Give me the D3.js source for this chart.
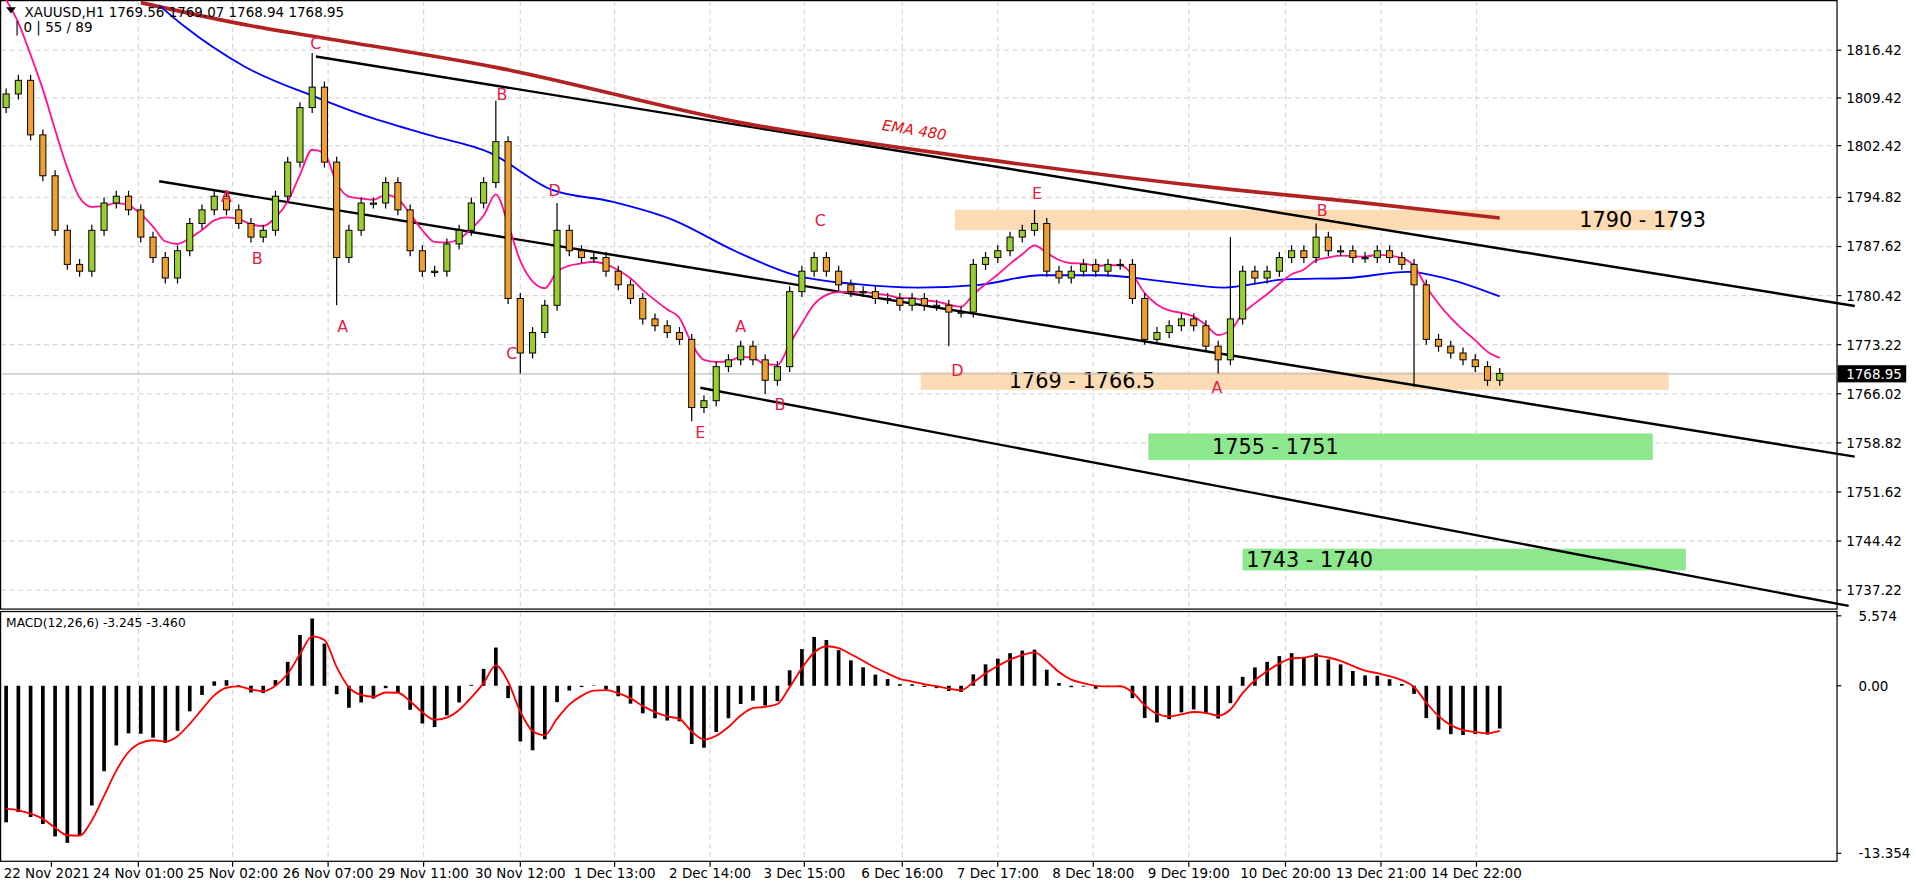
<!DOCTYPE html>
<html><head><meta charset="utf-8">
<script src="https://cdn.jsdelivr.net/npm/d3@7"></script>
<style>body{margin:0;background:#fff;font-family:Tahoma,"DejaVu Sans",sans-serif}</style>
</head><body><svg id="c" width="1916" height="884"></svg>
<script>
// closes per bar (each bar ~3 hours)
const closes = [1810,1812,1804,1798,1790,1785,1784,1790,1794,1795,1793,1789,1786,1783,1787,1791,1793,1795,1793,1791,
  1789,1790,1795,1800,1808,1811,1800,1786,1790,1794,1794,1797,1793,1787,1784,1784,1788,1790,1794,1797,
  1803,1780,1772,1775,1779,1790,1787,1786,1786,1784,1782,1780,1777,1776,1775,1774,1764,1765,1770,1771,
  1773,1771,1768,1770,1781,1784,1786,1784,1782,1781,1781,1780,1780,1779,1780,1779,1779,1778,1778,1785,
  1786,1787,1789,1790,1791,1784,1783,1784,1785,1784,1785,1785,1780,1774,1775,1776,1777,1776,1773,1771,
  1777,1784,1783,1784,1786,1787,1786,1789,1787,1787,1786,1786,1787,1786,1785,1782,1774,1773,1772,1771,
  1770,1768,1769];
const firstOpen = 1808;
// wick extremes: [bar, high, low]
const spikes = [[25,1816,null],[27,null,1779],[40,1809,null],[42,null,1769],[45,1794,null],[56,null,1762],
  [62,null,1766],[77,null,1773],[84,1793,null],[99,null,1769],[100,1789,null],[107,1791,null],[115,null,1767]];
// closes before the window, used to warm up the indicators
const priorCloses = [1858,1856,1853,1850,1846,1840,1834,1828,1822,1816];
// EMA 480 (red) and slow MA (blue) as [bar, price]
const ema480 = [[11,1823.4],[20,1820],[25.3,1818.4],[40,1813.9],[60,1805.8],[80,1800.4],[100,1796],[110,1794.2],[122,1791.8]];
const blueMA = [[12.5,1823],[14.5,1820],[19.5,1814],[25.5,1809.4],[29.5,1806.7],[34.5,1804],[39.5,1801.4],[44.5,1796],
  [49.5,1794.2],[54.5,1791.5],[59.5,1787],[64.5,1783.4],[69.5,1782.1],[74.5,1781.6],[79.5,1782],[84.5,1783.4],
  [89.5,1783.4],[94.5,1782.5],[99.5,1781.6],[104.5,1782.8],[109.5,1783],[114.5,1783.9],[117.5,1783],[122,1780.3]];
const channels = [[[25.3,1815.5],[151,1778.9]],[[12.5,1797.2],[151,1756.8]],[[56.7,1766.9],[150.5,1734.9]]];
const zones = [
  {b0:77.5,b1:136.2,p0:1793,p1:1790,fill:"#fddcb5",label:"1790 - 1793",lb:128.5},
  {b0:74.7,b1:135.8,p0:1769.2,p1:1766.6,fill:"#fddcb5",label:"1769 - 1766.5",lb:81.9},
  {b0:93.3,b1:134.5,p0:1760.2,p1:1756.3,fill:"#8de88d",label:"1755 - 1751",lb:98.5},
  {b0:101,b1:137.2,p0:1743.3,p1:1740.1,fill:"#8de88d",label:"1743 - 1740",lb:101.3}];
const waves = [["C",25.3,1817.5],["A",18,1795],["B",20.5,1786],["A",27.5,1776],["B",40.5,1810],["D",44.8,1796],
  ["C",41.3,1772],["A",60,1776],["E",56.7,1760.5],["B",63.2,1764.5],["C",66.5,1791.5],["D",77.7,1769.5],
  ["E",84.2,1795.5],["A",98.9,1767],["B",107.5,1793]];
const priceTicks = ["1816.42","1809.42","1802.42","1794.82","1787.62","1780.42","1773.22","1766.02","1758.82","1751.62","1744.42","1737.22"];
const timeLabels = [["22 Nov 2021",3.7],["24 Nov 01:00",10.8],["25 Nov 02:00",18.5],["26 Nov 07:00",26.3],["29 Nov 11:00",34.1],
  ["30 Nov 12:00",42],["1 Dec 13:00",49.7],["2 Dec 14:00",57.5],["3 Dec 15:00",65.2],["6 Dec 16:00",73.2],["7 Dec 17:00",81],
  ["8 Dec 18:00",88.8],["9 Dec 19:00",96.6],["10 Dec 20:00",104.5],["13 Dec 21:00",112.3],["14 Dec 22:00",120.1]];
const macdTicks = [5.574, 0, -13.354];
const lastPrice = 1768.95;

const svg = d3.select("#c");
const W = 1500;
const x = d3.scaleLinear().domain([0, 122]).range([5, 1225]);
const y = d3.scaleLinear().domain([1816.42, 1737.22]).range([41, 482]);
const ym = d3.scaleLinear().domain([5.574, -13.354]).range([503, 697]);

// bars
const bars = closes.map((c, i) => {
  const o = i === 0 ? firstOpen : closes[i - 1];
  let h = Math.max(o, c) + 0.8, l = Math.min(o, c) - 0.8;
  const s = spikes.find(d => d[0] === i);
  if (s) { if (s[1]) h = s[1]; if (s[2]) l = s[2]; }
  return {i, o, c, h, l};
});

// indicators
function ema(arr, n) { const k = 2 / (n + 1); let e = arr[0]; return arr.map(v => e = v * k + e * (1 - k)); }
const all = priorCloses.concat(closes);
const pink = ema(all, 6).slice(priorCloses.length);
const e1 = ema(all, 4), e2 = ema(all, 9);
const macdAll = e1.map((v, i) => v - e2[i]);
const sigAll = ema(macdAll, 3);
const macd = macdAll.slice(priorCloses.length), sig = sigAll.slice(priorCloses.length);

// whole layout drawn in 1565-wide units, then scaled to the window
const g = svg.append("g").attr("transform", `scale(${1916 / 1565})`);
g.append("rect").attr("x", 0.5).attr("y", 0.5).attr("width", W).attr("height", 497).attr("fill", "none").attr("stroke", "#000");
g.append("rect").attr("x", 0.5).attr("y", 499.5).attr("width", W).attr("height", 204).attr("fill", "none").attr("stroke", "#000");
priceTicks.forEach(t => {
  g.append("line").attr("x1", 1).attr("x2", W).attr("y1", y(+t)).attr("y2", y(+t)).attr("stroke", "#d8d8d8").attr("stroke-dasharray", "4,3");
  g.append("line").attr("x1", W).attr("x2", W + 4).attr("y1", y(+t)).attr("y2", y(+t)).attr("stroke", "#000");
  g.append("text").attr("x", W + 8).attr("y", y(+t) + 4).attr("font-size", 11).text(t);
});
timeLabels.forEach(([t, b], k) => {
  if (k > 0) [[1, 497], [500, 703]].forEach(([a, z]) =>
    g.append("line").attr("x1", x(b)).attr("x2", x(b)).attr("y1", a).attr("y2", z).attr("stroke", "#d8d8d8").attr("stroke-dasharray", "4,3"));
  g.append("line").attr("x1", x(b)).attr("x2", x(b)).attr("y1", 704).attr("y2", 708).attr("stroke", "#000");
  g.append("text").attr("x", k === 0 ? 3 : x(b)).attr("y", 717).attr("font-size", 11)
    .attr("text-anchor", k === 0 ? "start" : "middle").text(t);
});
macdTicks.forEach(t => {
  g.append("line").attr("x1", W).attr("x2", W + 4).attr("y1", ym(t)).attr("y2", ym(t)).attr("stroke", "#000");
  g.append("text").attr("x", W + 18).attr("y", ym(t) + 4).attr("font-size", 11).text(t === 0 ? "0.00" : t.toFixed(3));
});

// zones
zones.forEach(z => {
  g.append("rect").attr("x", x(z.b0)).attr("y", y(z.p0)).attr("width", x(z.b1) - x(z.b0)).attr("height", y(z.p1) - y(z.p0)).attr("fill", z.fill);
  g.append("text").attr("x", x(z.lb)).attr("y", (y(z.p0) + y(z.p1)) / 2 + 6).attr("font-size", 17).text(z.label);
});

// last price line
g.append("line").attr("x1", 1).attr("x2", W).attr("y1", y(lastPrice)).attr("y2", y(lastPrice)).attr("stroke", "#c0c0c0");

// channels
channels.forEach(([a, b]) => g.append("line").attr("x1", x(a[0])).attr("y1", y(a[1])).attr("x2", x(b[0])).attr("y2", y(b[1]))
  .attr("stroke", "#000").attr("stroke-width", 2));

// moving averages
const line = d3.line().x(d => x(d[0])).y(d => y(d[1])).curve(d3.curveMonotoneX);
g.append("path").attr("d", line(ema480)).attr("fill", "none").attr("stroke", "#b22222").attr("stroke-width", 3);
g.append("path").attr("d", line(blueMA)).attr("fill", "none").attr("stroke", "#0000ff").attr("stroke-width", 1.5);
g.append("path").attr("d", line(pink.map((v, i) => [i, v]))).attr("fill", "none").attr("stroke", "#ff1493").attr("stroke-width", 1.5);
g.append("text").attr("transform", `translate(${x(71.5)},${y(1804.7)}) rotate(9)`).attr("font-size", 12).attr("font-style", "italic").attr("fill", "#e01010").text("EMA 480");

// candles
const cg = g.selectAll(".cd").data(bars).join("g");
cg.append("line").attr("x1", d => x(d.i)).attr("x2", d => x(d.i)).attr("y1", d => y(d.h)).attr("y2", d => y(d.l)).attr("stroke", "#000");
cg.append("rect").attr("x", d => x(d.i) - 2.5).attr("width", 5)
  .attr("y", d => y(Math.max(d.o, d.c))).attr("height", d => Math.max(1, Math.abs(y(d.o) - y(d.c))))
  .attr("fill", d => d.c >= d.o ? "#9acd32" : "#f0a030").attr("stroke", "#000").attr("stroke-width", 0.8);

// wave labels
waves.forEach(([t, b, p]) => g.append("text").attr("x", x(b)).attr("y", y(p) + 5).attr("text-anchor", "middle")
  .attr("font-size", 13).attr("fill", "#e0204a").text(t));

// MACD
g.selectAll(".mh").data(macd).join("rect").attr("x", (d, i) => x(i) - 1.5).attr("width", 3)
  .attr("y", d => Math.min(ym(d), ym(0))).attr("height", d => Math.abs(ym(d) - ym(0))).attr("fill", "#000");
g.append("path").attr("d", d3.line().x((d, i) => x(i)).y(d => ym(d)).curve(d3.curveMonotoneX)(sig))
  .attr("fill", "none").attr("stroke", "#ff0000").attr("stroke-width", 1.5);

// price tag and headers
g.append("rect").attr("x", W + 1).attr("y", y(lastPrice) - 7).attr("width", 56).attr("height", 14).attr("fill", "#000");
g.append("text").attr("x", W + 8).attr("y", y(lastPrice) + 4).attr("font-size", 11).attr("fill", "#fff").text(lastPrice.toFixed(2));
g.append("path").attr("d", "M5,6 L13,6 L9,11 Z").attr("fill", "#000");
g.append("text").attr("x", 20).attr("y", 14).attr("font-size", 11).text("XAUUSD,H1  1769.56 1769.07 1768.94 1768.95");
g.append("text").attr("x", 12).attr("y", 26).attr("font-size", 11).text("| 0 | 55 / 89");
g.append("text").attr("x", 5).attr("y", 512).attr("font-size", 10).text("MACD(12,26,6) -3.245 -3.460");
</script></body></html>
